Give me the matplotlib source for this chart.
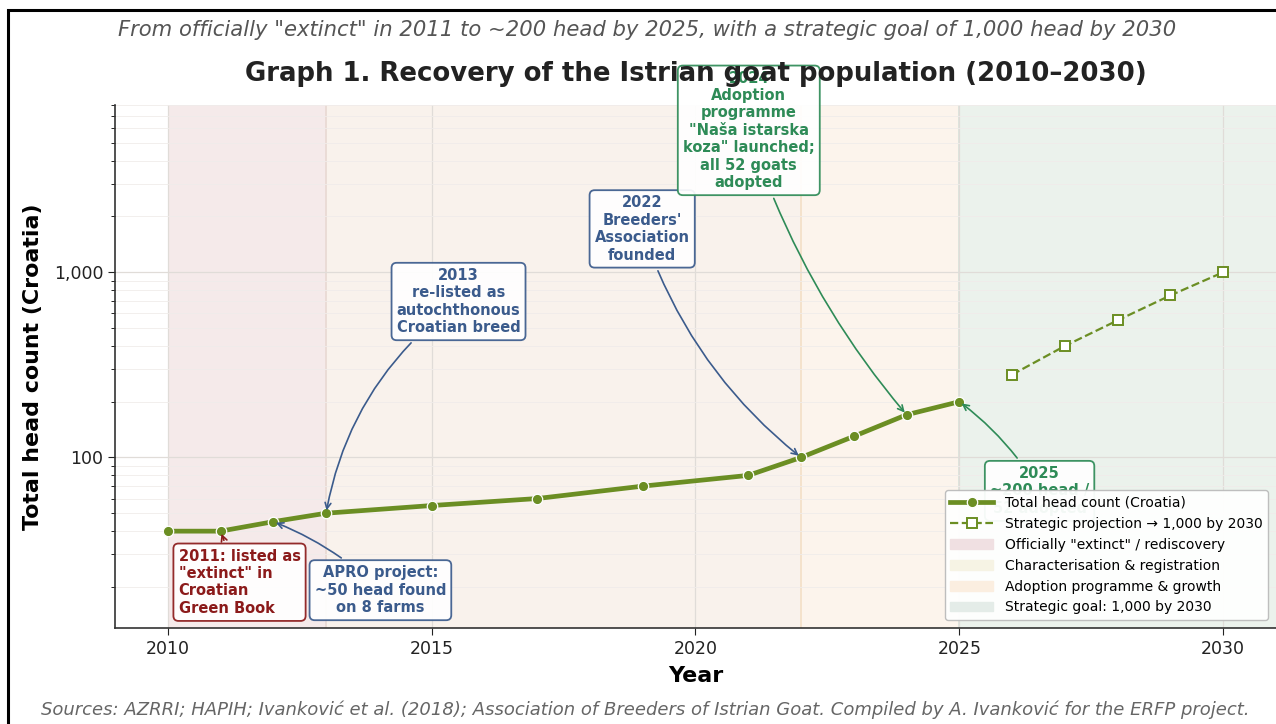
import numpy as np
import matplotlib.pyplot as plt
import matplotlib.patches as mpatches
from matplotlib.lines import Line2D
from matplotlib.ticker import FuncFormatter

# observed head counts
years = [2010, 2011, 2012, 2013, 2015, 2017, 2019, 2021, 2022, 2023, 2024, 2025]
heads = [40, 40, 45, 50, 55, 60, 70, 80, 100, 130, 170, 200]

# strategic projection to 2030
proj_years = [2026, 2027, 2028, 2029, 2030]
proj_heads = [280, 400, 550, 750, 1000]

# phases
phase_starts = [2010, 2013, 2022, 2025]
phase_ends = [2013, 2022, 2025, 2031]
phase_labels = ['Officially "extinct" / rediscovery', 'Characterisation & registration',
                'Adoption programme & growth', 'Strategic goal: 1,000 by 2030']
span_colors = ['#f5eaea', '#f9f2ec', '#fcf4ec', '#ebf2ec']
legend_colors = ['#f0e0e2', '#f6f3e4', '#fbeee0', '#e4ece8']

GREEN = '#6b8e23'
RED = '#8b1a1a'
BLUE = '#3b5b8c'
SEA = '#2e8b57'

plt.rcParams['font.family'] = 'DejaVu Sans'
fig = plt.figure(figsize=(12.76, 7.24), dpi=100)
ax = fig.add_axes([0.0901, 0.1326, 0.9099, 0.7224])

for s, e, c in zip(phase_starts, phase_ends, span_colors):
    ax.axvspan(s, e, color=c, zorder=0, lw=0)
for x, c in [(2013, '#e8d8d2'), (2022, '#f3dfc6'), (2025, '#d8e2da')]:
    ax.axvline(x, color=c, lw=1.2, zorder=0.5)

ax.plot(years, heads, color=GREEN, lw=3.4, marker='o', ms=7.5, mec='white', mew=0.9, zorder=3)
ax.plot(proj_years, proj_heads, color=GREEN, lw=1.6, ls='--', marker='s', ms=7,
        mfc='white', mec=GREEN, mew=1.4, zorder=3)

ax.set_yscale('log')
ax.set_xlim(2009, 2031)
ax.set_ylim(12, 8000)
ax.set_xticks([2010, 2015, 2020, 2025, 2030])
ax.set_yticks([100, 1000])
ax.yaxis.set_major_formatter(FuncFormatter(lambda v, p: f'{v:,.0f}'))
ax.yaxis.set_minor_formatter(FuncFormatter(lambda v, p: ''))
ax.tick_params(axis='both', labelsize=12.5, colors='#222222', length=5)
ax.tick_params(axis='y', which='minor', length=3)
ax.grid(True, which='major', color='#e0dcd8', lw=0.9, zorder=0.6)
ax.grid(True, which='minor', axis='y', color='#f0ecea', lw=0.6, zorder=0.6)
for sp in ['top', 'right']:
    ax.spines[sp].set_visible(False)
for sp in ['left', 'bottom']:
    ax.spines[sp].set_color('#333333')
    ax.spines[sp].set_linewidth(1.2)

ax.set_xlabel('Year', fontsize=16, fontweight='bold', labelpad=6)
ax.set_ylabel('Total head count (Croatia)', fontsize=15.9, fontweight='bold', labelpad=8)

def box(c):
    return dict(boxstyle='round,pad=0.35', fc='white', ec=c, lw=1.3, alpha=0.92)

ax.annotate('2011: listed as\n"extinct" in\nCroatian\nGreen Book', xy=(2011, 40),
            xytext=(2011.36, 21.2), ha='center', va='center', multialignment='left',
            fontsize=10.5, fontweight='bold', color=RED, bbox=box(RED),
            arrowprops=dict(arrowstyle='->', color=RED, lw=1.2), zorder=5)
ax.annotate('APRO project:\n~50 head found\non 8 farms', xy=(2012, 45),
            xytext=(2014.03, 19.2), ha='center', va='center',
            fontsize=10.5, fontweight='bold', color=BLUE, bbox=box(BLUE),
            arrowprops=dict(arrowstyle='->', color=BLUE, lw=1.2,
                            connectionstyle='arc3,rad=0.1'), zorder=5)
ax.annotate('2013\nre-listed as\nautochthonous\nCroatian breed', xy=(2013, 50),
            xytext=(2015.51, 695), ha='center', va='center',
            fontsize=10.5, fontweight='bold', color=BLUE, bbox=box(BLUE),
            arrowprops=dict(arrowstyle='->', color=BLUE, lw=1.2,
                            connectionstyle='arc3,rad=0.2'), zorder=5)
ax.annotate("2022\nBreeders'\nAssociation\nfounded", xy=(2022, 100),
            xytext=(2018.99, 1714), ha='center', va='center',
            fontsize=10.5, fontweight='bold', color=BLUE, bbox=box(BLUE),
            arrowprops=dict(arrowstyle='->', color=BLUE, lw=1.2,
                            connectionstyle='arc3,rad=0.15'), zorder=5)
ax.annotate('2024\nAdoption\nprogramme\n"Naša istarska\nkoza" launched;\nall 52 goats\nadopted',
            xy=(2024, 170), xytext=(2021.01, 5835), ha='center', va='center',
            fontsize=10.5, fontweight='bold', color=SEA, bbox=box(SEA),
            arrowprops=dict(arrowstyle='->', color=SEA, lw=1.2,
                            connectionstyle='arc3,rad=0.1'), zorder=5, annotation_clip=False)
ax.annotate('2025\n~200 head /\n52 adopted', xy=(2025, 200),
            xytext=(2026.52, 66), ha='center', va='center',
            fontsize=10.5, fontweight='bold', color=SEA, bbox=box(SEA),
            arrowprops=dict(arrowstyle='->', color=SEA, lw=1.2,
                            connectionstyle='arc3,rad=0.1'), zorder=5)

handles = [Line2D([0], [0], color=GREEN, lw=3.4, marker='o', ms=7.5, mec='white', mew=0.9),
           Line2D([0], [0], color=GREEN, lw=1.6, ls='--', marker='s', ms=7,
                  mfc='white', mec=GREEN, mew=1.4)]
handles += [mpatches.Patch(color=c) for c in legend_colors]
labels = ['Total head count (Croatia)', 'Strategic projection \u2192 1,000 by 2030'] + phase_labels
leg = ax.legend(handles, labels, loc='lower right', fontsize=10, frameon=True,
                fancybox=True, framealpha=0.95, edgecolor='#bbbbbb',
                handlelength=3.1, bbox_to_anchor=(0.999, 0.002))
leg.set_zorder(10)

fig.text(0.507, 0.958, 'From officially "extinct" in 2011 to ~200 head by 2025, with a strategic goal of 1,000 head by 2030',
         ha='center', va='center', fontsize=15.2, style='italic', color='#555555')
fig.text(0.545, 0.898, 'Graph 1. Recovery of the Istrian goat population (2010\u20132030)',
         ha='center', va='center', fontsize=18.7, fontweight='bold', color='#222222')
fig.text(0.506, 0.019, 'Sources: AZRRI; HAPIH; Ivanković et al. (2018); Association of Breeders of Istrian Goat. '
         'Compiled by A. Ivanković for the ERFP project.',
         ha='center', va='center', fontsize=12.95, style='italic', color='#666666')

fig.patches.append(mpatches.Rectangle((0.006, -0.02), 1.1, 1.006, transform=fig.transFigure,
                                      fill=False, ec='black', lw=2.2, zorder=20))

fig.savefig('out.png', dpi=100)
